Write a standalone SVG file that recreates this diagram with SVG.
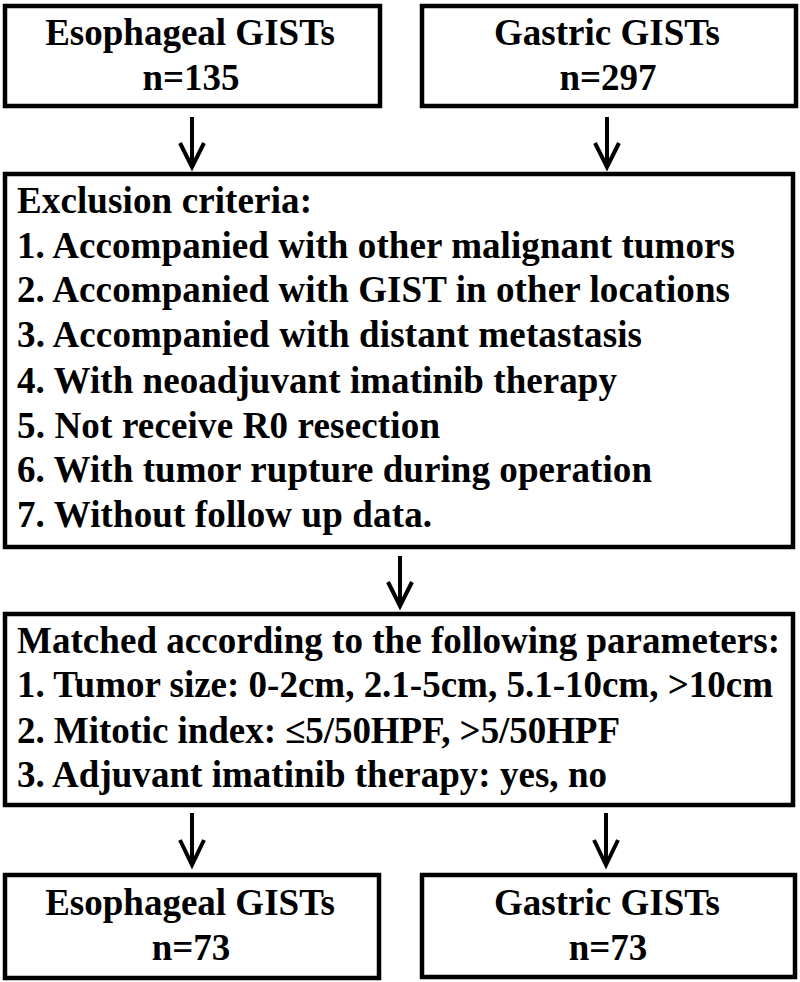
<svg xmlns="http://www.w3.org/2000/svg" width="800" height="982" viewBox="0 0 800 982">
<style>
.box{fill:#fff;stroke:#000;stroke-width:4.5}
.t{font-family:"Liberation Serif","Times New Roman",serif;font-weight:bold;fill:#000}
.h{font-size:37px;text-anchor:middle}
.b{font-size:37px}
.c{fill:none;stroke:#000;stroke-width:4;stroke-linecap:butt}
.v{fill:none;stroke:#000;stroke-width:4;stroke-linejoin:miter}
</style>
<rect width="800" height="982" fill="#fff"/>
<g id="esoph-top">
<rect class="box" x="5" y="6" width="375" height="100"/>
<text class="t h" x="190" y="45">Esophageal GISTs</text>
<text class="t h" x="191" y="90">n=135</text>
</g>
<g id="gastric-top">
<rect class="box" x="422" y="6" width="374" height="100"/>
<text class="t h" x="607" y="45">Gastric GISTs</text>
<text class="t h" x="608" y="90">n=297</text>
</g>
<g id="exclusion">
<rect class="box" x="5" y="174" width="788" height="373"/>
<text class="t b" x="17" y="213" textLength="295" lengthAdjust="spacing">Exclusion criteria:</text>
<text class="t b" x="17" y="258" textLength="718" lengthAdjust="spacing">1. Accompanied with other malignant tumors</text>
<text class="t b" x="17" y="302" textLength="713" lengthAdjust="spacing">2. Accompanied with GIST in other locations</text>
<text class="t b" x="17" y="347" textLength="625" lengthAdjust="spacing">3. Accompanied with distant metastasis</text>
<text class="t b" x="17" y="393" textLength="600" lengthAdjust="spacing">4. With neoadjuvant imatinib therapy</text>
<text class="t b" x="17" y="438" textLength="423" lengthAdjust="spacing">5. Not receive R0 resection</text>
<text class="t b" x="17" y="482" textLength="635" lengthAdjust="spacing">6. With tumor rupture during operation</text>
<text class="t b" x="17" y="527" textLength="415" lengthAdjust="spacing">7. Without follow up data.</text>
</g>
<g id="matched">
<rect class="box" x="5" y="614" width="788" height="191"/>
<text class="t b" x="17" y="653" textLength="763" lengthAdjust="spacing">Matched according to the following parameters:</text>
<text class="t b" x="17" y="697" textLength="756" lengthAdjust="spacing">1. Tumor size: 0-2cm, 2.1-5cm, 5.1-10cm, &gt;10cm</text>
<text class="t b" x="17" y="743" textLength="603" lengthAdjust="spacing">2. Mitotic index: ≤5/50HPF, &gt;5/50HPF</text>
<text class="t b" x="17" y="787" textLength="590" lengthAdjust="spacing">3. Adjuvant imatinib therapy: yes, no</text>
</g>
<g id="esoph-bottom">
<rect class="box" x="5" y="875" width="374" height="103"/>
<text class="t h" x="190" y="915">Esophageal GISTs</text>
<text class="t h" x="191" y="960">n=73</text>
</g>
<g id="gastric-bottom">
<rect class="box" x="422" y="875" width="373" height="102"/>
<text class="t h" x="607" y="915">Gastric GISTs</text>
<text class="t h" x="608" y="960">n=73</text>
</g>
<g id="connectors">
<line class="c" x1="192" y1="117" x2="192" y2="166"/>
<polyline class="v" points="180,143 192,167 204,143"/>
<line class="c" x1="607" y1="117" x2="607" y2="166"/>
<polyline class="v" points="595,143 607,167 619,143"/>
<line class="c" x1="400" y1="556" x2="400" y2="605"/>
<polyline class="v" points="388,582 400,606 412,582"/>
<line class="c" x1="192" y1="813" x2="192" y2="864"/>
<polyline class="v" points="180,840 192,865 204,840"/>
<line class="c" x1="606" y1="813" x2="606" y2="864"/>
<polyline class="v" points="594,840 606,865 618,840"/>
</g>
</svg>
